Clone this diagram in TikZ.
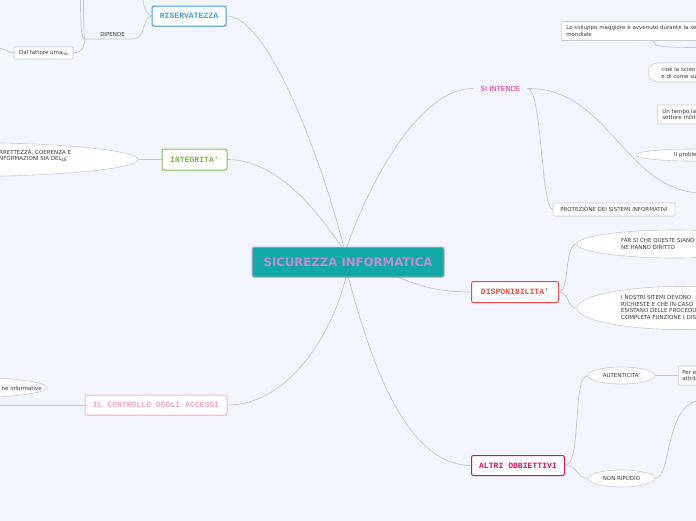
\documentclass[tikz,border=0pt]{standalone}
\usepackage{fontspec}
\setmainfont{DejaVu Sans}
\newfontfamily\monof{Liberation Mono}
\usetikzlibrary{shapes.geometric,shadows,backgrounds}
\definecolor{bgc}{HTML}{F3F5FD}
\definecolor{connc}{HTML}{C5C6CE}
\definecolor{gboxc}{HTML}{C9CBD2}
\definecolor{txtc}{HTML}{3A3A3A}
\definecolor{cteal}{HTML}{10A9A5}
\definecolor{cborder}{HTML}{C7A2DA}
\definecolor{ctext}{HTML}{C48CD4}
\definecolor{blu}{HTML}{3AA3DC}
\definecolor{grn}{HTML}{8CC152}
\definecolor{grnt}{HTML}{7DB343}
\definecolor{lpink}{HTML}{F4BBCB}
\definecolor{lpinkt}{HTML}{F2A8BE}
\definecolor{sipink}{HTML}{E8307F}
\definecolor{redc}{HTML}{E8504C}
\definecolor{crim}{HTML}{D3175A}
\tikzset{
  conn/.style={draw=connc, line width=0.7pt},
  mainbox/.style={draw, fill=white, rounded corners=2pt, line width=1pt, inner sep=0pt,
    font=\monof\bfseries\fontsize{8.1}{8}\selectfont,
    drop shadow={opacity=0.25, shadow xshift=0.4pt, shadow yshift=-0.9pt}},
  small/.style={font=\fontsize{5.5}{6.8}\selectfont, text=txtc},
  gbox/.style={draw=gboxc, fill=white, line width=0.6pt, rounded corners=1pt, small, inner ysep=0pt, align=left},
  gell/.style={ellipse, draw=gboxc, fill=white, line width=0.6pt, inner sep=0pt}
}
\newcommand{\lowtxt}[1]{\raisebox{-1pt}{\fontsize{4.5}{5}\selectfont #1}}
\begin{document}
\begin{tikzpicture}[x=1pt,y=-1pt]
\useasboundingbox (0,0) rectangle (696,520);
\clip (0,0) rectangle (696,520);

% main nodes
\node[mainbox, draw=cborder, fill=cteal, text=ctext, font=\bfseries\fontsize{11.7}{11.7}\selectfont,
  minimum width=192pt, minimum height=30pt] (c) at (348,262) {SICUREZZA INFORMATICA};
\node[mainbox, draw=blu, text=blu, minimum width=74pt, minimum height=20pt] (ris) at (189,16) {RISERVATEZZA};
\node[mainbox, draw=grn, text=grnt, minimum width=65pt, minimum height=21pt] (integ) at (194.5,159.5) {INTEGRITA\textquotesingle};
\node[mainbox, draw=lpink, text=lpinkt, minimum width=142pt, minimum height=20pt] (ctrl) at (156,405) {IL CONTROLLO DEGLI ACCESSI};
\node[mainbox, draw=redc, text=redc, minimum width=87pt, minimum height=21pt] (disp) at (515,292) {DISPONIBILITA\textquotesingle};
\node[mainbox, draw=crim, text=crim, minimum width=93pt, minimum height=20pt] (altri) at (518,465.5) {ALTRI OBBIETTIVI};
\node[text=sipink, font=\fontsize{7}{7}\selectfont, inner xsep=7pt] (si) at (500.5,88.5) {SI INTENDE};

% RISERVATEZZA side
\node[small, inner sep=1pt] (dip) at (112.5,34) {DIPENDE};
\node[gbox, minimum width=59pt, minimum height=12pt, inner xsep=0pt] (dal) at (43.5,53) {Dal fattore uma\lowtxt{no}};

% INTEGRITA side
\node[gell, minimum width=356pt, minimum height=34pt] (intell) at (-40,159.5) {};
\node[small, anchor=west, align=left, inner sep=0pt, font=\fontsize{5.5}{6.2}\selectfont] (inttxt) at (-1,156.3) {RRETTEZZA, COERENZA E\\NFORMAZIONI SIA DEL\lowtxt{LE}};

% CONTROLLO side
\node[gell, minimum width=174pt, minimum height=21pt] (ctrlell) at (-40,387.5) {};
\node[small, anchor=east, inner sep=0pt] (ctrltxt) at (42,388) {ne informative};

% SI INTENDE side
\node[gbox, anchor=west, minimum height=19pt, inner xsep=5pt, text width=160pt] (ls) at (561,31) {Lo sviluppo maggiore è avvenuto durante la se\\mondiale};
\node[gbox, anchor=west, minimum height=19pt, inner xsep=13pt, text width=100pt, rounded corners=9pt] (cioe) at (648,72.5) {cioè la scien\\e di come su};
\node[gbox, anchor=west, minimum height=19pt, inner xsep=5pt, text width=100pt] (ut) at (657,114.5) {Un tempo la\\settore milit};
\node[gell, minimum width=110pt, minimum height=12pt] (ipell) at (691,155) {};
\node[small, anchor=west, inner sep=0pt] (iptxt) at (674,155) {Il proble};
\node[gbox, minimum width=122pt, minimum height=13pt] (prot) at (614,209.5) {PROTEZIONE DEI SISTEMI INFORMATIVI};

% DISPONIBILITA side
\node[gell, minimum width=196pt, minimum height=28pt] (d1) at (675,244) {};
\node[small, anchor=north west, align=left, inner sep=0pt] (d1t) at (621,238) {FAR SI CHE QUESTE SIANO\\NE HANNO DIRITTO};
\node[gell, minimum width=206pt, minimum height=43pt] (d2) at (680,308) {};
\node[small, anchor=north west, align=left, inner sep=0pt] (d2t) at (621,295) {I NOSTRI SITEMI DEVONO\\RICHIESTE E CHE IN CASO\\ESISTANO DELLE PROCEDU\\COMPLETA FUNZIONE ( DIS};

% ALTRI side
\node[gell, small, minimum width=67pt, minimum height=17pt] (aut) at (621.5,375.5) {AUTENTICITA\textquotesingle};
\node[gell, small, minimum width=67pt, minimum height=17pt] (nr) at (621.5,478.5) {NON RIPUDIO};
\node[gbox, anchor=west, minimum height=19pt, inner xsep=4pt, text width=60pt] (per) at (678,375.5) {Per e\\attrib};

% coordinates
\coordinate (ctop) at (345,252);
\coordinate (cbot) at (347,272);
\coordinate (crt) at (385,272);
\coordinate (dipR) at (134,39);
\coordinate (dipL) at (85,39);
\coordinate (offA) at (80.5,-5);
\coordinate (offA2) at (83.5,-5);
\coordinate (offB) at (-3,48);
\coordinate (offR) at (142.5,-5);
\coordinate (offC) at (-5,405);
\coordinate (offD) at (702,193);
\coordinate (lsa) at (653,40);
\coordinate (offE) at (702,47.5);
\coordinate (offF) at (702,400);

\begin{scope}[on background layer]
\fill[bgc] (-10,-10) rectangle (710,530);
% main connectors
\draw[conn] (ris.east) .. controls (270,16) and (325,170) .. (ctop);
\draw[conn] (integ.east) .. controls (280,160) and (320,215) .. (ctop);
\draw[conn] (si.west) .. controls (420,88) and (370,180) .. (ctop);
\draw[conn] (ctrl.east) .. controls (290,405) and (335,330) .. (cbot);
\draw[conn] (altri.west) .. controls (405,465) and (370,360) .. (cbot);
\draw[conn] (disp.west) .. controls (430,292) and (410,282) .. (crt);
% riservatezza
\draw[conn] (ris.west) .. controls (143,16) and (145,39) .. (dipR) -- (dipL);
\draw[conn] (ris.west) .. controls (146,14) and (143,6) .. (offR);
\draw[conn] (dipL) .. controls (81,39) and (80.5,25) .. (offA);
\draw[conn] (dipL) .. controls (83.5,36) and (83.5,20) .. (offA2);
\draw[conn] (dipL) .. controls (84,50) and (80,53) .. (dal.east);
\draw[conn] (dal.west) .. controls (8,53) and (6,48) .. (offB);
% integrita / controllo
\draw[conn] (intell.east) -- (integ.west);
\draw[conn] (ctrl.west) -- (offC);
% si intende
\draw[conn] (si.east) .. controls (610,88) and (625,192) .. (offD);
\draw[conn] (si.east) .. controls (542,88) and (541,209) .. (prot.west);
\draw[conn] (lsa) .. controls (653,46) and (656,47.5) .. (offE);
% disponibilita
\draw[conn] (disp.east) .. controls (570,292) and (564,244) .. (d1.west);
\draw[conn] (disp.east) .. controls (570,292) and (566,308) .. (d2.west);
% altri
\draw[conn] (altri.east) .. controls (582,465) and (572,376) .. (aut.west);
\draw[conn] (altri.east) .. controls (578,465) and (576,478) .. (nr.west);
\draw[conn] (aut.east) -- (per.west);
\draw[conn] (nr.east) .. controls (672,478) and (664,402) .. (offF);
\end{scope}
\end{tikzpicture}
\end{document}
